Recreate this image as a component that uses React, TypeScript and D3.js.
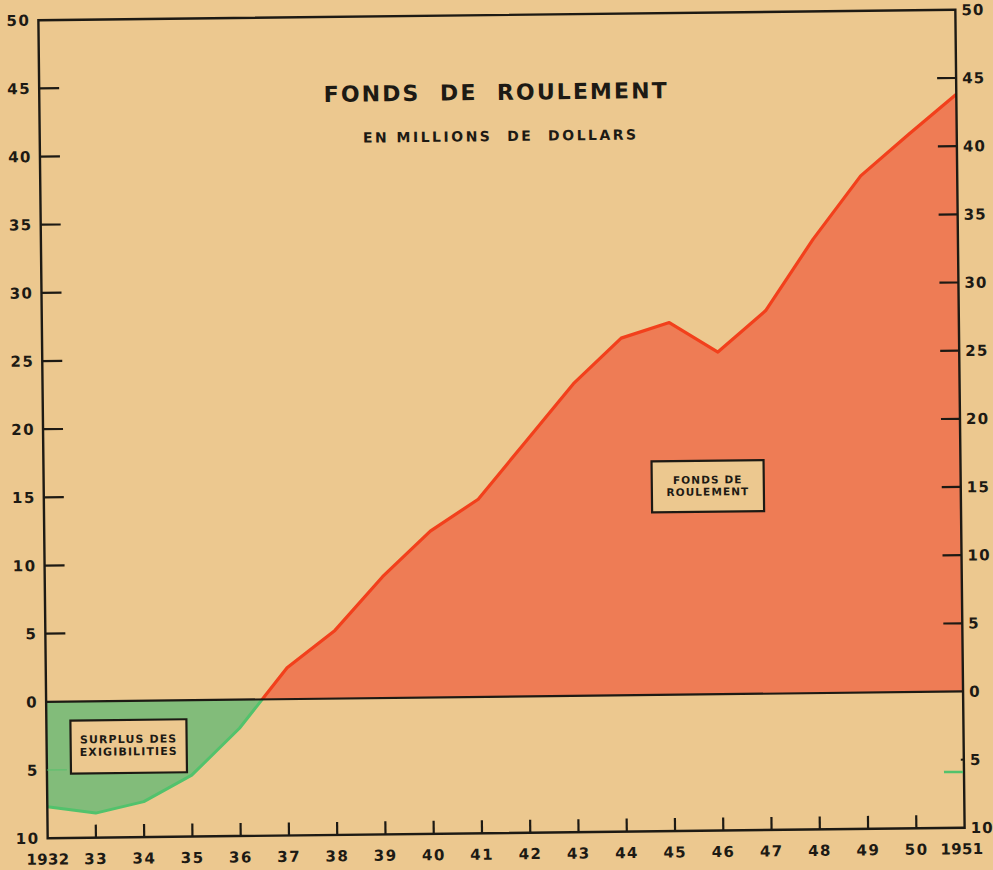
import React from "react";
import * as d3 from "d3";

const years = [1932, 1933, 1934, 1935, 1936, 1937, 1938, 1939, 1940, 1941, 1942, 1943, 1944, 1945, 1946, 1947, 1948, 1949, 1950, 1951];
const values = [-7.7, -8.2, -7.4, -5.5, -2.1, 2.3, 5.0, 8.9, 12.2, 14.5, 18.7, 22.9, 26.2, 27.3, 25.1, 28.1, 33.3, 37.9, 40.9, 43.8];
const yearLabels = ["1932", "33", "34", "35", "36", "37", "38", "39", "40", "41", "42", "43", "44", "45", "46", "47", "48", "49", "50", "1951"];
const yTicks = [50, 45, 40, 35, 30, 25, 20, 15, 10, 5, 0, -5, -10];
const title = "FONDS  DE  ROULEMENT";
const subtitle = "EN MILLIONS  DE  DOLLARS";
const posLabel = ["FONDS DE", "ROULEMENT"];
const negLabel = ["SURPLUS DES", "EXIGIBILITIES"];

const W = 993, H = 870;
const L = 43, R = 960, T = 15, B = 833;
const PAPER = "#ecc88f";
const INK = "#1d1a14";
const RED_FILL = "#ee7c55";
const RED_LINE = "#f2401c";
const GREEN_FILL = "#82bc7a";
const GREEN_LINE = "#52c26c";
const FONT = "'DejaVu Sans', Verdana, sans-serif";

export default function App() {
  const x = d3.scaleLinear().domain([1932, 1951]).range([L, R]);
  const y = d3.scaleLinear().domain([-10, 50]).range([B, T]);
  const data = years.map((yr, i) => ({ yr, v: values[i] }));
  const area = d3.area<{ yr: number; v: number }>().x(d => x(d.yr)).y0(y(0)).y1(d => y(d.v));
  const line = d3.line<{ yr: number; v: number }>().x(d => x(d.yr)).y(d => y(d.v));
  const y0 = y(0);

  return (
    <svg width={W} height={H} style={{ position: "absolute", left: 0, top: 0, background: PAPER }} fontFamily={FONT}>
      <defs>
        <clipPath id="above"><rect x={L} y={T} width={R - L} height={y0 - T} /></clipPath>
        <clipPath id="below"><rect x={L} y={y0} width={R - L} height={B - y0} /></clipPath>
      </defs>
      <rect x={0} y={0} width={W} height={H} fill={PAPER} />
      <g transform={`rotate(-0.65 501.6 423.75)`}>
        {/* areas */}
        <path d={area(data) || ""} fill={RED_FILL} clipPath="url(#above)" />
        <path d={area(data) || ""} fill={GREEN_FILL} clipPath="url(#below)" />
        <path d={line(data) || ""} fill="none" stroke={RED_LINE} strokeWidth={3.2} strokeLinejoin="round" clipPath="url(#above)" />
        <path d={line(data) || ""} fill="none" stroke={GREEN_LINE} strokeWidth={3} strokeLinejoin="round" clipPath="url(#below)" />

        {/* frame */}
        <rect x={L} y={T} width={R - L} height={B - T} fill="none" stroke={INK} strokeWidth={2.4} />
        <line x1={L} x2={R} y1={y0} y2={y0} stroke={INK} strokeWidth={2.2} />

        {/* left ticks and labels */}
        {yTicks.map(t => (
          <g key={"l" + t}>
            {t !== 50 && t !== 0 && t !== -10 && (
              <line x1={L} x2={L + 20} y1={y(t)} y2={y(t)} stroke={t < 0 ? GREEN_LINE : INK} strokeWidth={t < 0 ? 1.5 : 2.2} opacity={t < 0 ? 0.6 : 1} />
            )}
            <text x={L - 8} y={y(t)} dy="0.36em" textAnchor="end" fontSize={15} fontWeight="bold" letterSpacing={1.5} fill={INK}>{Math.abs(t)}</text>
          </g>
        ))}
        {/* right ticks and labels */}
        {yTicks.map(t => (
          <g key={"r" + t}>
            {t > 0 && t < 50 && (
              <line x1={R - 19} x2={R} y1={y(t)} y2={y(t)} stroke={INK} strokeWidth={2.2} />
            )}
            {t === -5 && <line x1={R - 3} x2={R} y1={y(t)} y2={y(t)} stroke={INK} strokeWidth={2} />}
            <text x={R + 6} y={y(t)} dy="0.36em" textAnchor="start" fontSize={15} fontWeight="bold" letterSpacing={1.2} fill={INK}>{Math.abs(t)}</text>
          </g>
        ))}
        <line x1={R - 20} x2={R - 1} y1={y(-5.9)} y2={y(-5.9)} stroke={GREEN_LINE} strokeWidth={2.5} />

        {/* bottom ticks and labels */}
        {years.map((yr, i) => (
          <g key={"x" + yr}>
            {i > 0 && i < years.length - 1 && (
              <line x1={x(yr)} x2={x(yr)} y1={B} y2={B - 13} stroke={INK} strokeWidth={2.2} />
            )}
            <text x={x(yr) + (i === years.length - 1 ? -3 : 0)} y={B + 21} dy="0.36em" textAnchor="middle" fontSize={15} fontWeight="bold" letterSpacing={yearLabels[i].length > 2 ? 0.3 : 1.5} fill={INK}>{yearLabels[i]}</text>
          </g>
        ))}

        {/* title */}
        <text x={500} y={92} dy="0.36em" textAnchor="middle" fontSize={22} fontWeight="bold" letterSpacing={2.1} fill={INK} style={{ whiteSpace: "pre" }}>{title}</text>
        <text x={504} y={136} dy="0.36em" textAnchor="middle" fontSize={14} fontWeight="bold" letterSpacing={2.5} fill={INK} style={{ whiteSpace: "pre" }}>{subtitle}</text>

        {/* label boxes */}
        <g transform={`translate(${x(1945.76)},${y(15.3)})`}>
          <rect x={-56} y={-25} width={112} height={51} fill={PAPER} stroke={INK} strokeWidth={2.2} />
          {posLabel.map((s, i) => (
            <text key={s} x={0} y={-6 + i * 12} dy="0.36em" textAnchor="middle" fontSize={10.5} fontWeight="bold" letterSpacing={1.1} fill={INK}>{s}</text>
          ))}
        </g>
        <g transform={`translate(${x(1933.7)},${y(-3.3)})`}>
          <rect x={-58} y={-26} width={116} height={53} fill={PAPER} stroke={INK} strokeWidth={2.2} />
          {negLabel.map((s, i) => (
            <text key={s} x={0} y={-7 + i * 12.5} dy="0.36em" textAnchor="middle" fontSize={11} fontWeight="bold" letterSpacing={1.1} fill={INK}>{s}</text>
          ))}
        </g>
      </g>
    </svg>
  );
}
